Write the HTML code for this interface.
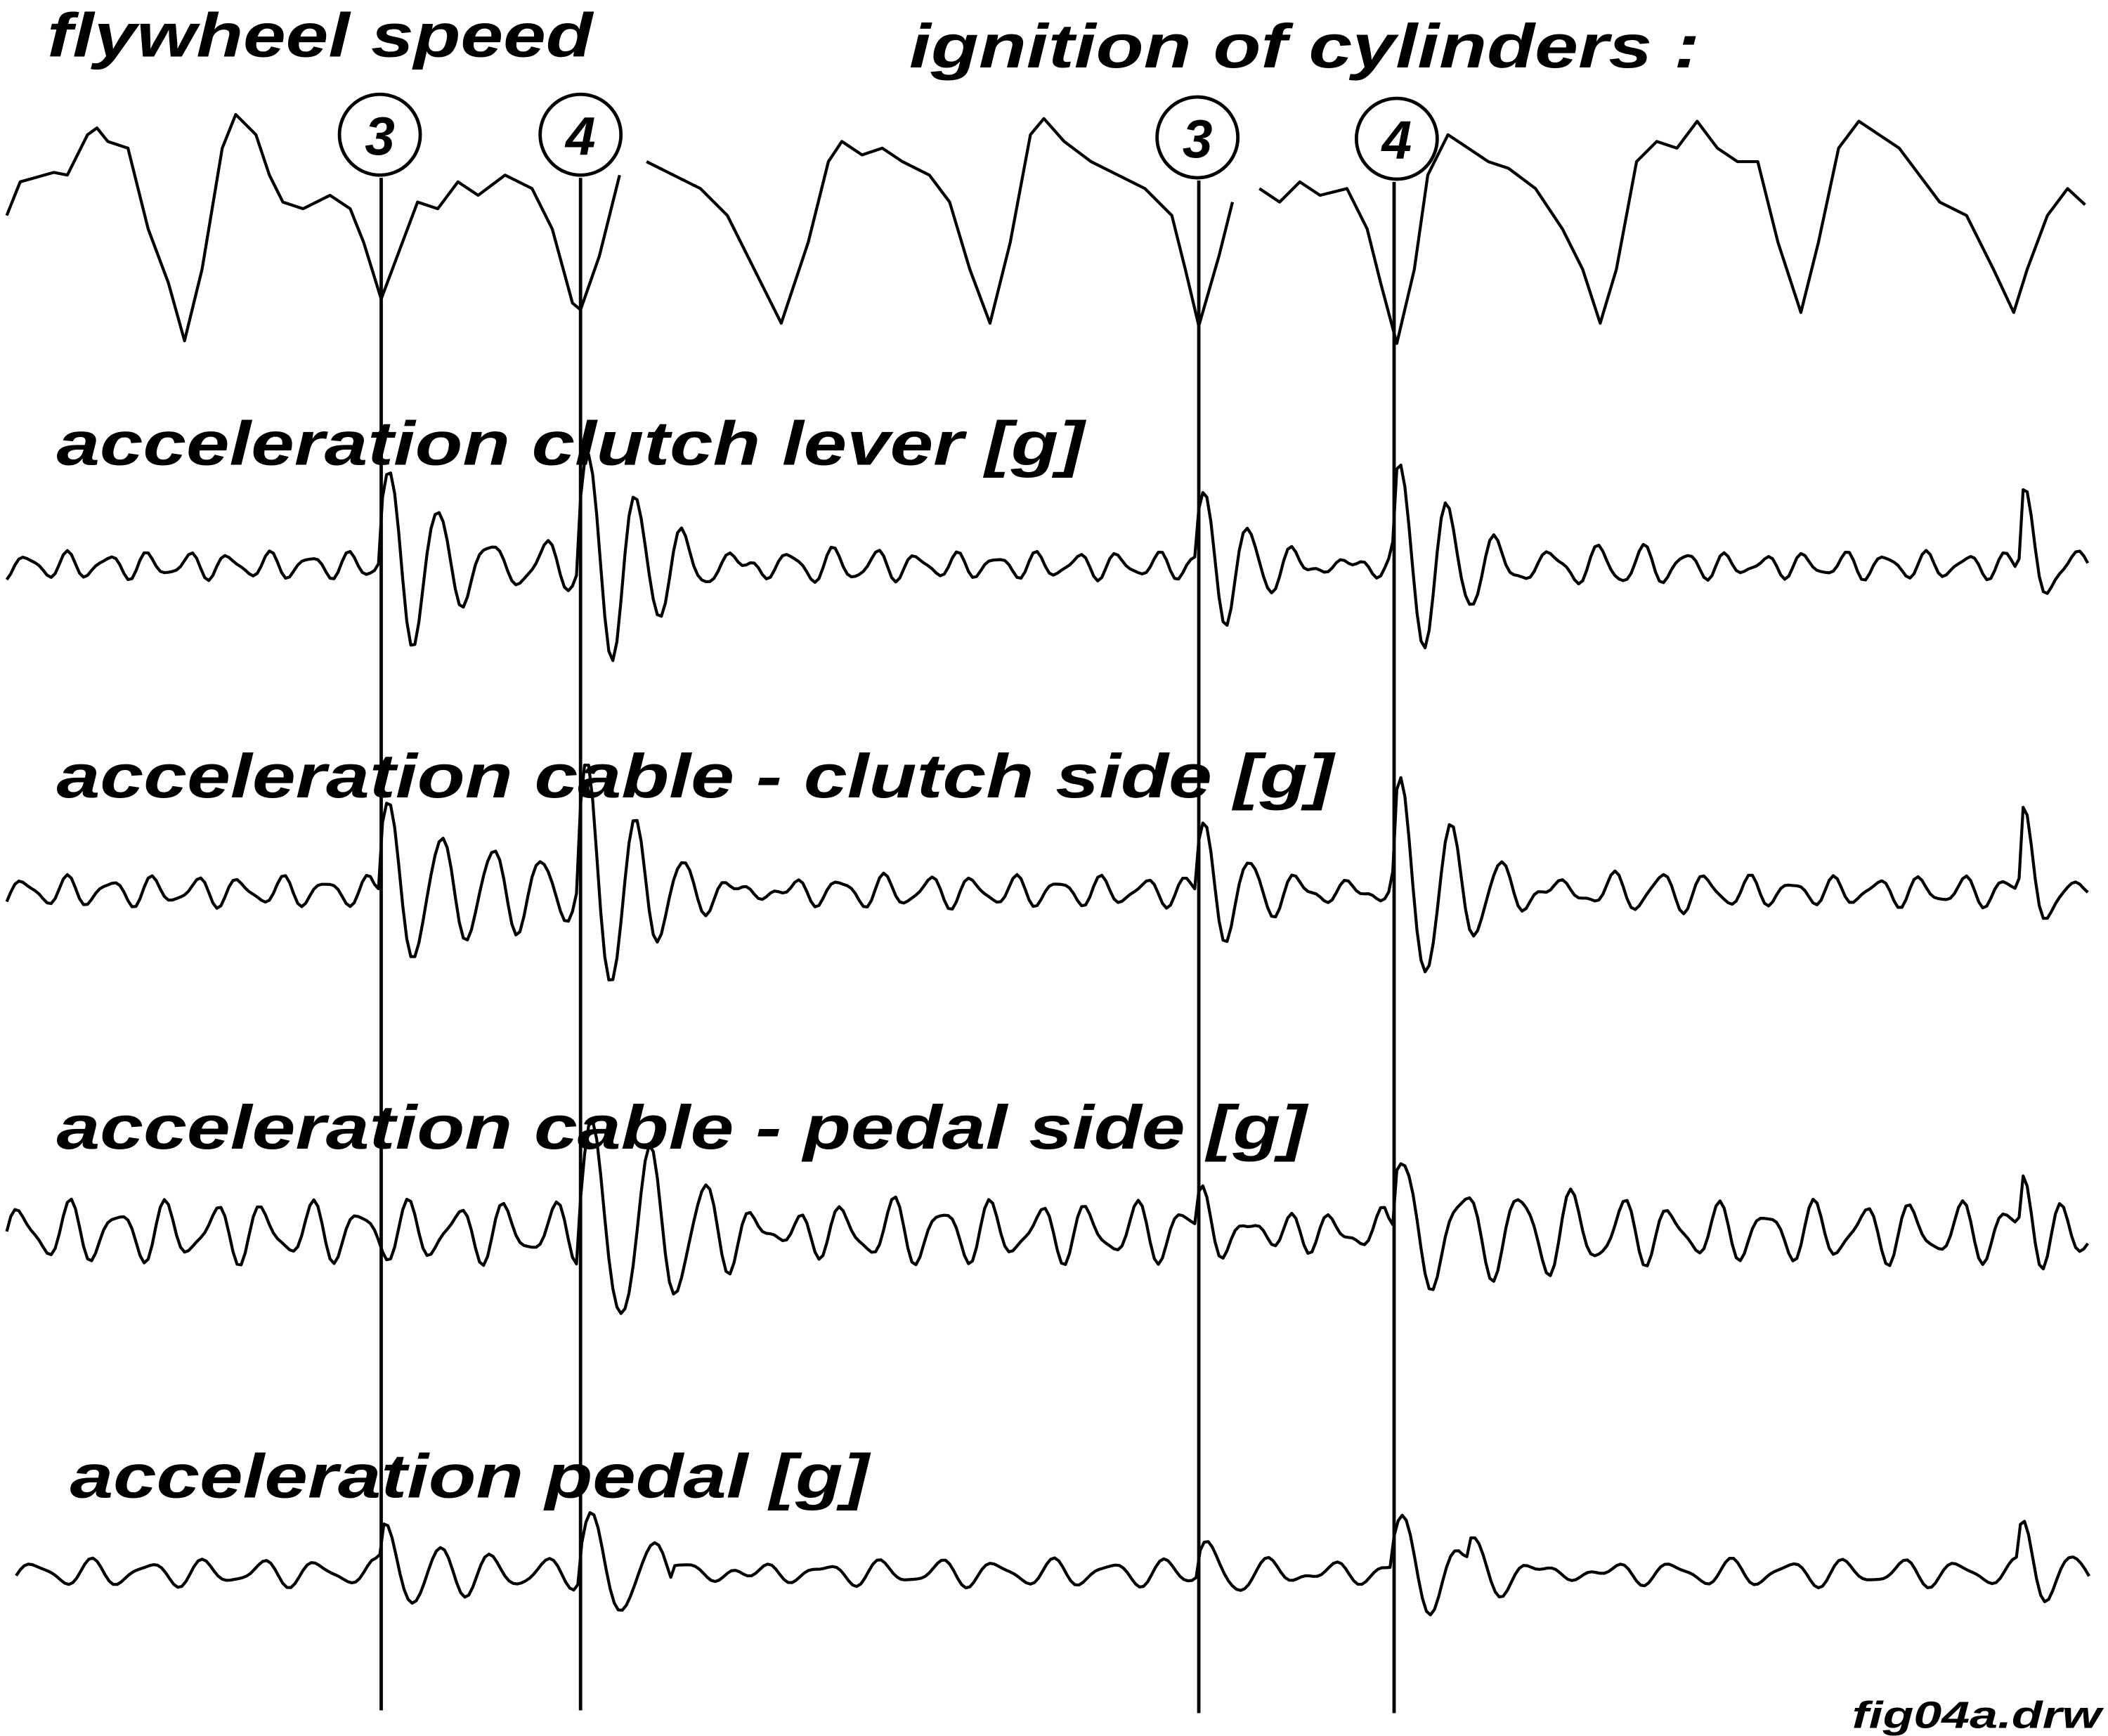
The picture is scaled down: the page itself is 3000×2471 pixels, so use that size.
<!DOCTYPE html>
<html><head><meta charset="utf-8">
<style>
html,body{margin:0;padding:0;background:#fff;}
svg{display:block;}
text{font-family:"Liberation Sans",Arial,sans-serif;font-weight:bold;font-style:italic;fill:#000;}
</style></head>
<body>
<svg id="s" width="3000" height="2471" viewBox="0 0 1565 1289" xmlns="http://www.w3.org/2000/svg">
<rect width="1565" height="1289" fill="#fff"/>
<text x="35" y="42" font-size="46" textLength="405" lengthAdjust="spacingAndGlyphs">flywheel speed</text>
<text x="675" y="50" font-size="46" textLength="587" lengthAdjust="spacingAndGlyphs">ignition of cylinders :</text>
<text x="42" y="345" font-size="46" textLength="763" lengthAdjust="spacingAndGlyphs">acceleration clutch lever [g]</text>
<text x="42" y="592" font-size="46" textLength="948" lengthAdjust="spacingAndGlyphs">acceleration cable - clutch side [g]</text>
<text x="42" y="853" font-size="46" textLength="928" lengthAdjust="spacingAndGlyphs">acceleration cable - pedal side [g]</text>
<text x="52" y="1112" font-size="46" textLength="593" lengthAdjust="spacingAndGlyphs">acceleration pedal [g]</text>
<text x="1375" y="1283" font-size="28" font-weight="normal" textLength="185" lengthAdjust="spacingAndGlyphs">fig04a.drw</text>
<g fill="#fff" stroke="#000" stroke-width="2.5">
<circle cx="282" cy="100" r="30"/><circle cx="431" cy="100" r="30"/>
<circle cx="889" cy="102" r="30"/><circle cx="1037" cy="103" r="30"/>
</g>
<g font-size="40" text-anchor="middle">
<text x="282" y="115">3</text><text x="431" y="115">4</text>
<text x="889" y="117">3</text><text x="1037" y="118">4</text>
</g>
<g stroke="#000" stroke-width="2.5">
<line x1="283" y1="132" x2="283" y2="1270"/>
<line x1="431" y1="132" x2="431" y2="1270"/>
<line x1="890" y1="134" x2="890" y2="1272"/>
<line x1="1035" y1="135" x2="1035" y2="1272"/>
</g>
<g fill="none" stroke="#000" stroke-width="2.2" stroke-linejoin="round">
<polyline points="5,160 15,135 40,128 50,130 65,100 72,95 80,105 95,110 110,170 125,210 137,253 150,200 165,110 175,85 190,100 200,130 210,150 225,155 245,145 260,155 270,180 283,222 295,190 310,150 325,155 340,135 355,145 375,130 395,140 410,170 425,225 431,230 445,190 460,130"/>
<polyline points="480,120 500,130 520,140 540,160 560,200 580,240 600,180 615,120 625,105 640,115 655,110 670,120 690,130 705,150 720,200 735,240 750,180 765,100 775,88 790,105 810,120 830,130 850,140 870,160 880,200 890,242 905,190 915,150"/>
<polyline points="935,140 950,150 965,135 980,145 1000,140 1015,170 1025,210 1037,255 1050,200 1060,130 1075,100 1090,110 1105,120 1120,125 1140,140 1160,170 1175,200 1188,240 1200,200 1215,120 1230,105 1245,110 1260,90 1275,110 1290,120 1305,120 1320,180 1337,232 1350,180 1365,110 1380,90 1395,100 1410,110 1425,130 1440,150 1460,160 1480,200 1495,232 1505,200 1520,160 1535,140 1548,152"/>
<g id="gen"></g>
</g>
</svg>
<script>
(function(){
var g=document.getElementById('gen');
function trace(base,noiseA,noiseP,bursts,x0,x1,phase){
  var pts=[];
  for(var x=x0;x<=x1;x+=3){
    var y=base+noiseA*Math.sin(2*Math.PI*x/noiseP+phase)+noiseA*0.4*Math.sin(2*Math.PI*x/(noiseP*0.63)+1.3*phase);
    for(var i=0;i<bursts.length;i++){
      var b=bursts[i],d=x-b[0];
      if(d>=-4){var e=d<0?(d+4)/4:Math.exp(-d/b[2]);y+=-b[1]*e*Math.sin(2*Math.PI*(d+4)/b[3])*(d<0?0.3:1);}
    }
    pts.push(x+','+y.toFixed(1));
  }
  var p=document.createElementNS('http://www.w3.org/2000/svg','polyline');
  p.setAttribute('points',pts.join(' '));g.appendChild(p);
}
trace(420,8,30,[[283,70,75,38],[431,80,65,36],[890,55,60,34],[1035,75,70,36],[1500,75,22,34]],5,1550,0.5);
trace(662,9,32,[[283,80,75,38],[431,85,65,36],[890,60,65,34],[1035,80,70,38],[1500,80,22,34]],5,1550,1.2);
trace(915,18,36,[[431,85,70,44],[890,45,60,36],[1035,80,60,42],[1500,50,22,34]],5,1550,2.0);
trace(1168,8,42,[[283,40,45,40],[431,45,50,45],[500,30,55,45],[890,30,45,40],[1035,45,50,45],[1090,30,55,45],[1500,40,22,34]],12,1552,0.8);
})();
</script>
</body></html>
